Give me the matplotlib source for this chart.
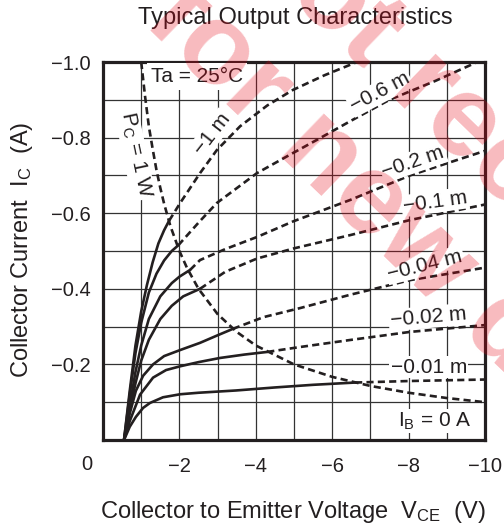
import numpy as np
import matplotlib
matplotlib.use('Agg')
import matplotlib.pyplot as plt

plt.rcParams['font.family'] = ['Liberation Sans', 'DejaVu Sans']
plt.rcParams['mathtext.fontset'] = 'custom'
plt.rcParams['mathtext.rm'] = 'Liberation Sans'
plt.rcParams['mathtext.it'] = 'Liberation Sans:italic'

INK = '#231f20'

# ---- data: VCE (V) and IC (A), PNP so both negative ----
# IB = -1 mA
s1m_v = [-0.55, -0.7, -0.85, -1.0, -1.15, -1.3, -1.45, -1.6, -1.73]
s1m_i = [0.0, -0.13, -0.25, -0.34, -0.41, -0.47, -0.52, -0.555, -0.58]
d1m_v = [-1.73, -2.02, -2.54, -2.98, -3.59, -4.3, -4.97, -5.8, -6.65]
d1m_i = [-0.58, -0.627, -0.706, -0.767, -0.83, -0.885, -0.926, -0.965, -1.0]
# IB = -0.6 mA
s06_v = [-0.55, -0.7, -0.85, -1.0, -1.2, -1.4, -1.6, -1.8, -1.97]
s06_i = [0.0, -0.12, -0.23, -0.31, -0.39, -0.44, -0.475, -0.5, -0.515]
d06_v = [-1.97, -2.5, -2.98, -4.03, -4.97, -5.6, -6.5, -7.5, -8.7, -9.8]
d06_i = [-0.515, -0.575, -0.627, -0.706, -0.759, -0.794, -0.845, -0.9, -0.95, -1.0]
# IB = -0.2 mA
s02_v = [-0.55, -0.7, -0.85, -1.0, -1.2, -1.5, -1.8, -2.0, -2.28]
s02_i = [0.0, -0.09, -0.18, -0.25, -0.32, -0.38, -0.415, -0.432, -0.45]
d02_v = [-2.28, -2.54, -3.2, -4.03, -4.97, -6.47, -8.04, -10.0]
d02_i = [-0.45, -0.476, -0.505, -0.537, -0.578, -0.635, -0.70, -0.765]
# IB = -0.1 mA
s01_v = [-0.55, -0.7, -0.85, -1.0, -1.2, -1.5, -1.8, -2.1, -2.54]
s01_i = [0.0, -0.08, -0.15, -0.21, -0.265, -0.32, -0.355, -0.38, -0.40]
d01_v = [-2.54, -3.2, -4.03, -5.0, -6.47, -8.04, -10.0]
d01_i = [-0.40, -0.445, -0.48, -0.507, -0.542, -0.582, -0.623]
# IB = -0.04 mA
s004_v = [-0.55, -0.7, -0.86, -1.05, -1.31, -1.6, -2.02, -2.54, -3.0, -3.4]
s004_i = [0.0, -0.07, -0.13, -0.17, -0.20, -0.222, -0.238, -0.257, -0.277, -0.294]
d004_v = [-3.4, -4.2, -5.16, -6.5, -8.04, -10.0]
d004_i = [-0.294, -0.325, -0.349, -0.385, -0.423, -0.456]
# IB = -0.02 mA
s002_v = [-0.55, -0.7, -0.97, -1.31, -1.65, -2.02, -2.5, -3.06, -3.7, -4.3]
s002_i = [0.0, -0.05, -0.12, -0.165, -0.185, -0.195, -0.206, -0.217, -0.226, -0.233]
d002_v = [-4.3, -5.16, -6.5, -8.04, -10.0]
d002_i = [-0.233, -0.246, -0.265, -0.286, -0.304]
# IB = -0.01 mA
s001_v = [-0.55, -0.7, -0.86, -1.05, -1.23, -1.57, -2.02, -2.5, -3.48, -4.5, -5.5, -6.6]
s001_i = [0.0, -0.035, -0.061, -0.085, -0.098, -0.113, -0.121, -0.125, -0.131, -0.139, -0.146, -0.152]
d001_v = [-6.6, -8.0, -10.0]
d001_i = [-0.152, -0.156, -0.16]
# PC = 1 W limit
pc_v = [-1.0, -1.1, -1.2, -1.3, -1.4, -1.5, -1.6, -1.75, -1.8, -2.0, -2.2, -2.5, -3.0,
        -3.5, -4.0, -5.0, -6.0, -7.0, -8.0, -9.0, -10.0]
pc_i = [-1.0, -0.91, -0.83, -0.77, -0.714, -0.667, -0.625, -0.571, -0.556, -0.5, -0.455,
        -0.4, -0.333, -0.286, -0.25, -0.2, -0.167, -0.143, -0.125, -0.111, -0.1]

solid = [(s1m_v, s1m_i), (s06_v, s06_i), (s02_v, s02_i), (s01_v, s01_i),
         (s004_v, s004_i), (s002_v, s002_i), (s001_v, s001_i)]
dashed = [(d1m_v, d1m_i), (d06_v, d06_i), (d02_v, d02_i), (d01_v, d01_i),
          (d004_v, d004_i), (d002_v, d002_i), (d001_v, d001_i)]

x_grid = [0, -1, -2, -3, -4, -5, -6, -7, -8, -9, -10]
x_gridlabels = ['', '', '−2', '', '−4', '', '−6', '', '−8', '', '−10']
y_grid = [0, -0.1, -0.2, -0.3, -0.4, -0.5, -0.6, -0.7, -0.8, -0.9, -1.0]
y_gridlabels = ['', '', '−0.2', '', '−0.4', '', '−0.6', '', '−0.8', '', '−1.0']

# curve labels: (text, V, I, rotation)
curve_labels = [('−1 m', -2.85, -0.81, 52), ('−0.6 m', -7.25, -0.92, 28),
                ('−0.2 m', -8.12, -0.735, 19), ('−0.1 m', -8.69, -0.63, 8),
                ('−0.04 m', -8.43, -0.463, 14), ('−0.02 m', -8.51, -0.325, 5),
                ('−0.01 m', -8.53, -0.193, 0)]

fig = plt.figure(figsize=(5.04, 5.24), dpi=100)
ax = fig.add_axes([103/504, 84/524, 382/504, 378/524])
ax.set_xlim(0, -10)
ax.set_ylim(0, -1.0)

ax.set_xticks(x_grid)
ax.set_xticklabels(x_gridlabels)
ax.set_yticks(y_grid)
ax.set_yticklabels(y_gridlabels)
ax.tick_params(length=0, labelsize=14.5, colors=INK, pad=9)
ax.tick_params(axis='x', pad=12)
ax.grid(True, color='#333333', linewidth=0.9)
ax.set_axisbelow(True)
for sp in ax.spines.values():
    sp.set_linewidth(2.3)
    sp.set_color(INK)

ax.annotate('0', xy=(0, 0), xycoords=('data', 'axes fraction'), xytext=(-12, -17.5),
            textcoords='offset points', ha='center', va='center', fontsize=14.5, color=INK)

LW = 1.9
for v, i in solid:
    ax.plot(v, i, color=INK, lw=LW, solid_capstyle='round', solid_joinstyle='round', zorder=3)
for v, i in dashed:
    ax.plot(v, i, color=INK, lw=LW, linestyle=(0, (2.7, 1.6)), zorder=3)
ax.plot(pc_v, pc_i, color=INK, lw=LW, linestyle=(0, (2.7, 1.6)), zorder=3)

box = dict(facecolor='white', edgecolor='none', pad=1.0)
for txt, v, i, rot in curve_labels:
    ax.text(v, i, txt, rotation=rot, ha='center', va='center', fontsize=15, color=INK,
            bbox=box, zorder=4, rotation_mode='anchor')
ax.text(-2.46, -0.962, 'Ta = 25°C', ha='center', va='center', fontsize=15, color=INK,
        bbox=dict(facecolor='white', edgecolor='none', pad=3.0), zorder=4)
ax.text(-8.69, -0.05, r'I$_\mathregular{B}$ = 0 A', ha='center', va='center', fontsize=15,
        color=INK, bbox=box, zorder=4)
ax.text(-0.84, -0.754, r'P$_\mathregular{C}$ = 1 W', rotation=-78, ha='center', va='center',
        fontsize=15, color=INK, bbox=box, zorder=4, rotation_mode='anchor')

fig.text(295/504, 1 - 18/524, 'Typical Output Characteristics', ha='center', va='center',
         fontsize=17, color=INK)
fig.text(293/504, 1 - 512/524, r'Collector to Emitter Voltage  V$_\mathregular{CE}$  (V)',
         ha='center', va='center', fontsize=17, color=INK)
fig.text(22/504, 1 - 250/524, r'Collector Current  I$_\mathregular{C}$  (A)', rotation=90,
         ha='center', va='center', fontsize=17, color=INK)

# watermark
wm = dict(rotation=-44, rotation_mode='anchor', ha='left', va='baseline', fontsize=83,
          fontweight='bold', color='#e60012', alpha=0.27, zorder=100)
fig.text(0.282, 0.956, 'for new design', **wm)
fig.text(0.447, 1.121, 'Not recommended', **wm)

fig.savefig('out.png', dpi=100)
